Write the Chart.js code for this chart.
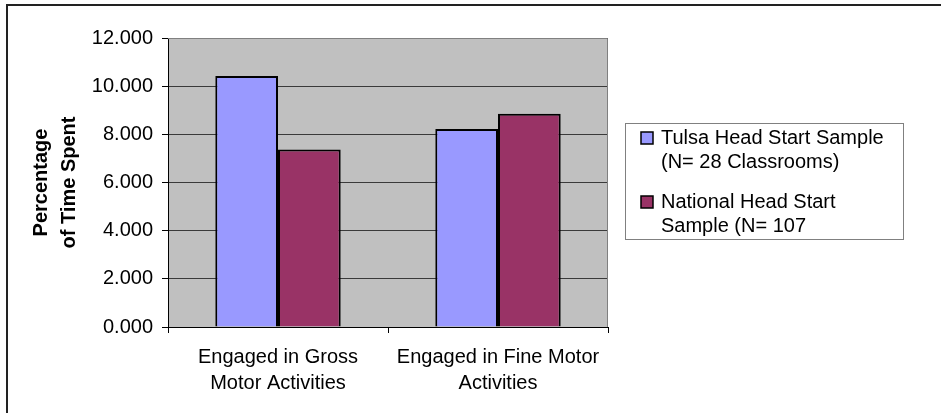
<!DOCTYPE html>
<html>
<head>
  <script src="https://cdn.jsdelivr.net/npm/chart.js"></script>
  <style>
    html, body { margin: 0; padding: 0; background: #fff; }
    #wrap { width: 941px; height: 413px; position: relative; }
  </style>
</head>
<body>
  <div id="wrap">
    <canvas id="bars"></canvas>
  </div>
  <script>
    // values
    const categories = [['Engaged in Gross', 'Motor Activities'], ['Engaged in Fine Motor', 'Activities']];
    const tulsaValues = [10.42, 8.22];
    const nationalValues = [7.37, 8.85];
    const seriesNames = [
      ['Tulsa Head Start Sample', '(N= 28 Classrooms)'],
      ['National Head Start', 'Sample (N= 107']
    ];
    const seriesColors = ['#9999FF', '#993366'];

    const FONT = 'Liberation Sans, Arial, sans-serif';

    // gray plot area + outer frame
    const backdrop = {
      id: 'backdrop',
      beforeDraw(chart) {
        const ctx = chart.ctx;
        const a = chart.chartArea;
        ctx.save();
        ctx.fillStyle = '#fff';
        ctx.fillRect(0, 0, chart.width, chart.height);
        ctx.fillStyle = '#C0C0C0';
        ctx.fillRect(a.left, a.top, a.right - a.left, a.bottom - a.top);
        ctx.strokeStyle = '#222';
        ctx.lineWidth = 2;
        ctx.strokeRect(7, 5, 2000, 2000);
        ctx.restore();
      },
      beforeDatasetsDraw(chart) {
        const ctx = chart.ctx;
        const a = chart.chartArea;
        ctx.save();
        ctx.strokeStyle = '#808080';
        ctx.lineWidth = 1;
        ctx.beginPath();
        ctx.moveTo(a.left, a.top + 0.5);
        ctx.lineTo(a.right - 0.5, a.top + 0.5);
        ctx.lineTo(a.right - 0.5, a.bottom);
        ctx.stroke();
        ctx.restore();
      }
    };

    // legend with wrapped labels in a framed box
    const boxLegend = {
      id: 'boxLegend',
      afterDraw(chart) {
        const ctx = chart.ctx;
        const x = 625, y = 123, w = 278, h = 116;
        ctx.save();
        ctx.fillStyle = '#fff';
        ctx.fillRect(x, y, w, h);
        ctx.strokeStyle = '#808080';
        ctx.lineWidth = 1;
        ctx.strokeRect(x + 0.5, y + 0.5, w, h);
        ctx.font = '20px ' + FONT;
        ctx.textBaseline = 'middle';
        ctx.fillStyle = '#000';
        chart.data.datasets.forEach((ds, i) => {
          const top = y + 15 + i * 64;
          ctx.fillStyle = ds.backgroundColor;
          ctx.fillRect(641, top - 6, 12, 12);
          ctx.strokeStyle = '#000';
          ctx.lineWidth = 1.5;
          ctx.strokeRect(641, top - 6, 12, 12);
          ctx.fillStyle = '#000';
          seriesNames[i].forEach((line, j) => {
            ctx.fillText(line, 661, top + j * 24.5);
          });
        });
        ctx.restore();
      }
    };

    new Chart(document.getElementById('bars'), {
      type: 'bar',
      data: {
        labels: categories,
        datasets: [
          {
            label: seriesNames[0].join(' '),
            data: tulsaValues,
            backgroundColor: seriesColors[0],
            borderColor: '#000',
            borderWidth: 2,
            categoryPercentage: 0.57,
            barPercentage: 1.0
          },
          {
            label: seriesNames[1].join(' '),
            data: nationalValues,
            backgroundColor: seriesColors[1],
            borderColor: '#000',
            borderWidth: 2,
            categoryPercentage: 0.57,
            barPercentage: 1.0
          }
        ]
      },
      options: {
        responsive: true,
        maintainAspectRatio: false,
        animation: false,
        layout: { padding: { left: 0, right: 333, top: 38, bottom: 0 } },
        plugins: {
          legend: { display: false },
          tooltip: { enabled: false }
        },
        scales: {
          x: {
            grid: {
              drawOnChartArea: false,
              tickLength: 6,
              color: '#000'
            },
            border: { color: '#000', width: 1 },
            ticks: {
              color: '#000',
              padding: 11,
              maxRotation: 0,
              font: { family: FONT, size: 20, lineHeight: 1.3 }
            },
            afterFit(a) { a.height = 86; }
          },
          y: {
            min: 0,
            max: 12,
            grid: {
              color: '#3a3a3a',
              tickColor: '#000',
              tickLength: 6
            },
            border: { color: '#000', width: 1 },
            ticks: {
              stepSize: 2,
              color: '#000',
              padding: 9,
              font: { family: FONT, size: 20 },
              callback: v => v.toFixed(3)
            },
            title: {
              display: true,
              text: ['Percentage', 'of Time Spent'],
              color: '#000',
              padding: { top: 27, bottom: 0 },
              font: { family: FONT, size: 20, weight: 'bold', lineHeight: 1.4 }
            },
            afterFit(a) { a.width = 168; }
          }
        }
      },
      plugins: [backdrop, boxLegend]
    });
  </script>
</body>
</html>
